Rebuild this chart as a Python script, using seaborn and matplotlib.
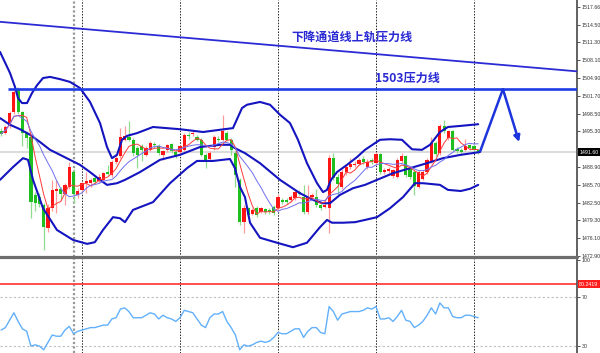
import numpy as np
import pandas as pd
import matplotlib
matplotlib.use("Agg")
import matplotlib.pyplot as plt
import seaborn as sns
from matplotlib.lines import Line2D

# hourly gold candles, oldest first (bar index 0..112)
opens = [
    1495.4, 1495.1, 1496.3, 1498.8, 1502.7, 1498.8, 1495.0, 1494.3, 1483.8, 1483.5,
    1482.1, 1477.9, 1481.5, 1484.6, 1485.0, 1484.0, 1485.4, 1488.0, 1483.9, 1484.8,
    1486.0, 1486.0, 1486.9, 1486.4, 1486.6, 1488.0, 1487.5, 1489.8, 1490.8, 1493.8,
    1494.3, 1493.8, 1492.3, 1492.6, 1491.1, 1492.0, 1493.1, 1492.7, 1491.1, 1492.0,
    1493.0, 1491.6, 1491.6, 1492.0, 1494.7, 1494.8, 1494.3, 1493.8, 1491.1, 1490.4,
    1492.5, 1494.0, 1493.8, 1495.0, 1493.8, 1491.4, 1486.6, 1479.1, 1481.5, 1480.5,
    1481.5, 1480.9, 1481.3, 1481.2, 1481.8, 1481.5, 1483.0, 1483.0, 1483.0, 1483.3,
    1484.4, 1483.6, 1480.9, 1483.5, 1483.6, 1482.1, 1481.8, 1481.5, 1490.5, 1487.2,
    1485.3, 1488.0, 1488.9, 1489.2, 1489.5, 1490.3, 1489.0, 1490.2, 1489.6, 1491.2,
    1488.0, 1488.2, 1487.3, 1487.2, 1490.0, 1490.9, 1488.5, 1488.0, 1485.4, 1486.8,
    1488.0, 1489.9, 1493.2, 1491.4, 1496.3, 1494.1, 1495.3, 1492.2, 1492.0, 1492.0,
    1492.8, 1492.7, 1492.0]
highs = [
    1495.9, 1496.4, 1499.0, 1503.1, 1503.3, 1499.0, 1495.4, 1494.6, 1484.5, 1484.3,
    1482.5, 1482.3, 1486.6, 1486.6, 1485.4, 1486.0, 1489.8, 1488.6, 1485.2, 1486.3,
    1488.1, 1487.0, 1487.5, 1487.6, 1488.0, 1489.3, 1490.2, 1491.0, 1496.0, 1496.2,
    1497.1, 1494.2, 1492.6, 1493.0, 1492.6, 1493.5, 1493.4, 1493.0, 1492.0, 1493.1,
    1493.3, 1491.9, 1492.9, 1495.0, 1495.2, 1495.5, 1494.7, 1494.1, 1491.4, 1491.8,
    1494.6, 1494.4, 1498.3, 1495.3, 1494.1, 1491.7, 1487.0, 1482.0, 1481.8, 1481.5,
    1481.9, 1481.8, 1481.6, 1481.5, 1482.0, 1484.0, 1483.4, 1483.4, 1483.9, 1484.8,
    1484.7, 1485.6, 1485.7, 1484.2, 1485.0, 1482.4, 1482.4, 1491.1, 1491.4, 1487.6,
    1488.5, 1489.3, 1490.5, 1490.0, 1490.6, 1490.8, 1490.3, 1490.6, 1491.6, 1491.5,
    1488.8, 1488.9, 1488.6, 1490.5, 1491.5, 1491.1, 1488.8, 1488.3, 1488.3, 1488.4,
    1490.5, 1494.3, 1493.5, 1496.6, 1497.4, 1495.6, 1495.6, 1492.5, 1492.3, 1493.9,
    1493.1, 1493.0, 1492.2]
lows = [
    1494.5, 1494.8, 1496.0, 1498.5, 1498.5, 1492.6, 1492.3, 1479.7, 1481.0, 1481.8,
    1474.0, 1477.3, 1481.0, 1480.7, 1483.0, 1482.0, 1485.0, 1482.4, 1483.4, 1484.5,
    1484.2, 1485.3, 1485.8, 1486.0, 1486.3, 1487.4, 1487.2, 1489.5, 1490.5, 1493.5,
    1493.5, 1490.8, 1488.7, 1490.0, 1490.8, 1491.8, 1492.4, 1491.0, 1490.2, 1491.6,
    1491.4, 1490.6, 1491.0, 1491.8, 1494.0, 1494.5, 1493.5, 1490.8, 1488.7, 1490.0,
    1492.0, 1493.4, 1493.5, 1493.5, 1491.1, 1485.3, 1478.5, 1477.0, 1480.0, 1480.2,
    1479.9, 1480.6, 1480.5, 1480.4, 1480.3, 1481.0, 1482.2, 1482.3, 1482.7, 1483.0,
    1483.8, 1480.5, 1480.5, 1483.2, 1481.8, 1481.2, 1481.5, 1477.1, 1486.5, 1483.9,
    1485.0, 1487.5, 1488.6, 1488.9, 1489.2, 1489.5, 1488.6, 1489.4, 1489.3, 1487.6,
    1487.6, 1487.8, 1487.0, 1486.9, 1489.7, 1487.2, 1486.8, 1483.9, 1485.1, 1486.5,
    1487.7, 1489.6, 1490.8, 1491.1, 1495.0, 1493.8, 1491.7, 1491.4, 1491.2, 1491.7,
    1492.0, 1491.6, 1491.2]
closes = [
    1494.9, 1496.1, 1498.6, 1502.4, 1498.8, 1495.1, 1494.2, 1482.7, 1482.5, 1482.3,
    1478.2, 1481.5, 1484.8, 1485.0, 1484.1, 1485.7, 1488.9, 1484.0, 1484.6, 1486.0,
    1486.4, 1486.6, 1486.2, 1487.2, 1487.8, 1487.7, 1489.9, 1490.6, 1494.3, 1494.5,
    1493.8, 1491.4, 1491.1, 1492.0, 1492.3, 1493.2, 1492.8, 1491.4, 1491.7, 1492.9,
    1491.7, 1491.1, 1492.6, 1494.7, 1494.4, 1494.9, 1493.8, 1491.1, 1490.2, 1491.5,
    1494.3, 1493.7, 1495.3, 1493.8, 1492.0, 1487.5, 1479.1, 1481.5, 1480.3, 1481.1,
    1480.3, 1481.5, 1480.9, 1480.8, 1480.6, 1483.6, 1482.6, 1482.7, 1483.5, 1484.5,
    1484.1, 1480.9, 1483.6, 1483.8, 1482.1, 1481.5, 1482.1, 1490.5, 1486.9, 1485.8,
    1488.0, 1488.9, 1489.5, 1489.5, 1490.2, 1489.9, 1489.9, 1489.8, 1491.3, 1488.1,
    1488.4, 1488.5, 1488.3, 1490.2, 1490.9, 1487.5, 1487.2, 1485.5, 1488.0, 1488.1,
    1490.2, 1493.2, 1491.2, 1496.3, 1495.3, 1495.3, 1492.0, 1491.8, 1491.6, 1492.7,
    1492.3, 1492.0, 1491.6]
rsi = [
    43, 45, 51, 57, 50, 44, 42, 30, 31, 30,
    27, 33, 39, 38, 38, 43, 46, 40, 42, 43,
    44, 45, 45, 46, 47, 47, 52, 53, 60, 61,
    58, 53, 53, 53, 55, 57, 56, 52, 55, 53,
    52, 50, 53, 59, 58, 57, 52, 47, 45, 53,
    56, 56, 58, 50, 45, 39, 27, 31, 30, 31,
    33, 34, 33, 34, 37, 41, 40, 40, 42, 44,
    44, 37, 42, 45, 45, 41, 40, 62, 58, 51,
    56, 57, 58, 58, 58, 59, 61, 60, 62, 52,
    52, 53, 50, 54, 59, 51, 50, 45, 47, 50,
    55, 61, 56, 65, 61, 61, 54, 53, 53, 55,
    55, 54, 53]

# bollinger bands (bar position, price)
upper_bar = [-0.26, 2.09, 3.26, 3.97, 4.91, 6.08, 7.25, 8.43, 9.84, 11.48, 13.83, 16.17,
             18.52, 20.87, 23.22, 24.86, 26.03, 27.21, 28.38, 29.55, 31.9, 35.66, 42.0,
             47.4, 51.39, 54.43, 55.61, 56.55, 57.72, 60.77, 63.12, 65.47, 67.82, 69.69,
             71.8, 74.16, 75.57, 76.5, 77.44, 78.85, 81.2, 83.56, 85.42, 88.94, 91.29,
             94.1, 96.46, 98.8, 100.68, 103.03, 104.9, 107.9, 112.0]
upper_price = [1509.6, 1505.8, 1503.3, 1501.3, 1500.4, 1500.4, 1502.2, 1503.6, 1504.9,
               1505.1, 1504.7, 1504.2, 1503.1, 1500.6, 1496.8, 1492.5, 1490.5, 1491.1,
               1493.8, 1494.5, 1495.0, 1496.1, 1495.7, 1495.2, 1495.6, 1495.9, 1497.9,
               1499.5, 1500.1, 1500.6, 1500.1, 1498.3, 1496.8, 1493.8, 1489.6, 1486.0,
               1484.4, 1484.8, 1486.6, 1488.0, 1489.3, 1490.7, 1492.0, 1493.8, 1493.9,
               1493.8, 1492.1, 1492.0, 1492.9, 1495.2, 1496.1, 1496.3, 1496.6]
mid_bar = [-0.26, 2.09, 4.44, 6.79, 9.13, 11.48, 13.83, 16.17, 18.52, 20.87, 23.22, 24.86,
           27.21, 29.08, 32.6, 37.3, 42.0, 46.69, 51.39, 53.73, 54.9, 57.25, 60.77, 65.47,
           70.16, 73.22, 75.57, 77.2, 79.55, 82.6, 85.42, 88.24, 92.0, 95.99, 99.98,
           103.73, 107.9, 112.4]
mid_price = [1497.7, 1496.5, 1495.7, 1494.7, 1493.4, 1492.0, 1491.1, 1490.2, 1489.3,
             1488.0, 1486.6, 1485.7, 1486.0, 1486.6, 1488.0, 1490.2, 1491.1, 1492.5,
             1492.9, 1492.9, 1492.3, 1491.4, 1489.6, 1486.6, 1484.2, 1483.0, 1482.4,
             1482.4, 1483.9, 1485.1, 1485.7, 1486.6, 1487.8, 1488.7, 1489.6, 1490.5,
             1491.1, 1491.6]
lower_bar = [-0.26, 2.79, 5.14, 6.31, 7.49, 9.84, 13.1, 16.9, 20.2, 22.0, 23.92, 26.27,
             27.91, 29.08, 30.96, 35.66, 39.65, 43.64, 45.99, 49.74, 53.73, 54.9, 56.08,
             57.25, 58.43, 60.77, 64.77, 68.5, 71.8, 74.86, 76.5, 77.67, 80.26, 83.08,
             85.42, 88.24, 91.29, 94.34, 97.16, 99.04, 103.03, 104.9, 107.9, 110.1, 112.0]
lower_price = [1486.6, 1488.9, 1490.5, 1490.2, 1486.6, 1481.5, 1477.6, 1475.8, 1475.1,
               1475.4, 1477.6, 1479.9, 1479.7, 1479.0, 1481.2, 1482.6, 1486.0, 1488.7,
               1490.0, 1490.0, 1490.35, 1488.7, 1485.3, 1483.5, 1478.9, 1476.2, 1475.3,
               1474.5, 1475.3, 1478.1, 1479.4, 1478.9, 1478.9, 1479.0, 1479.4, 1479.9,
               1481.5, 1483.5, 1486.0, 1486.0, 1485.7, 1484.8, 1484.6, 1485.0, 1485.7]

day_starts = [19, 42, 65, 88, 111]
marker_bar = 17.1
resistance = 1503.0
resistance_from = 1.62
trend_bars = [-0.26, 135.19]
trend_prices = [1515.0, 1506.1]
forecast_bars = [112.4, 117.8, 121.6]
forecast_prices = [1491.6, 1502.9, 1493.4]
last_price = 1491.60
rsi_level = 80.2419
price_ticks = [1517.66, 1514.50, 1511.30, 1508.10, 1504.90, 1501.70, 1498.50, 1495.30,
               1492.10, 1488.90, 1485.70, 1482.50, 1479.30, 1476.10, 1472.90]
rsi_ticks = [100, 70, 30]

sns.set_style("white")
plt.rcParams['font.family'] = ['Noto Sans CJK SC', 'DejaVu Sans']

df = pd.DataFrame({'open': opens, 'high': highs, 'low': lows, 'close': closes, 'rsi': rsi})
df['bar'] = np.arange(len(df))
df['ma_fast'] = df['close'].rolling(5, min_periods=1).mean()
df['ma_slow'] = df['close'].rolling(10, min_periods=1).mean()
up = df['close'] >= df['open']

XMIN, XMAX = -0.26, 135.19
fig = plt.figure(figsize=(6, 3.53), dpi=100)
ax = fig.add_axes([0, 96 / 353, 577 / 600, 257 / 353])
ax2 = fig.add_axes([0, 0, 577 / 600, 94 / 353])

for a in (ax, ax2):
    a.set_xlim(XMIN, XMAX)
    a.set_xticks([])
    for s in ['top', 'left', 'bottom']:
        a.spines[s].set_visible(False)
    a.spines['right'].set_color('#555555')
    a.spines['right'].set_linewidth(1.3)
    a.yaxis.tick_right()
    a.tick_params(axis='y', length=2.5, width=0.6, pad=1, labelsize=3.8,
                  colors='#333333')
    for d in day_starts:
        a.axvline(d, color='#222222', ls=(0, (1.5, 1.5)), lw=0.7, zorder=0.8)
    a.axvline(marker_bar, color='#999999', ls=(0, (1, 1)), lw=1.6, zorder=0.8)

# ---- price panel
ax.set_ylim(1472.74, 1518.92)
ax.set_yticks(price_ticks)
# the tick right under the last-price tag is hidden by that tag
tick_text = ['' if abs(t - last_price) < 1.0 else f'{t:.2f}' for t in price_ticks]
ax.set_yticklabels(tick_text, family='Liberation Sans')
ax.axhline(last_price, color='#d8d8d8', lw=1.3, zorder=0.5)

wick_col = np.where(up, '#ff9a9a', '#8fdb8f')
body_col = np.where(up, '#ff1414', '#20bf20')
ax.vlines(df['bar'], df['low'], df['high'], colors=wick_col, lw=0.9, zorder=2)
body_h = np.maximum((df['close'] - df['open']).abs(), 0.15)
body_b = np.minimum(df['open'], df['close'])
ax.bar(df['bar'], body_h, bottom=body_b, width=0.75, color=body_col, lw=0, zorder=3)

band_col = '#1414c0'
for bx, bp in [(upper_bar, upper_price), (mid_bar, mid_price), (lower_bar, lower_price)]:
    sns.lineplot(x=bx, y=bp, ax=ax, color=band_col, lw=1.5, sort=False,
                 estimator=None, zorder=4)
sns.lineplot(data=df, x='bar', y='ma_fast', ax=ax, color='#ff3b3b', lw=0.7, zorder=4)
sns.lineplot(data=df, x='bar', y='ma_slow', ax=ax, color='#6f6ff2', lw=0.7, zorder=4)

ax.plot(trend_bars, trend_prices, color='#2b2bd6', lw=1.3, zorder=4)
ax.hlines(resistance, resistance_from, XMAX, color='#1e3ce6', lw=1.9, zorder=4)
arrow_col = '#1c34dc'
ax.plot(forecast_bars[:2], forecast_prices[:2], color=arrow_col, lw=1.8,
        solid_capstyle='butt', zorder=5)
ax.annotate('', xy=(forecast_bars[2], forecast_prices[2]),
            xytext=(forecast_bars[1], forecast_prices[1]),
            arrowprops=dict(arrowstyle='-|>', color=arrow_col, lw=1.8,
                            mutation_scale=9, shrinkA=0, shrinkB=0), zorder=5)

ax.text(82.4, 1512.3, '下降通道线上轨压力线', ha='center', va='center',
        fontsize=8.7, color='#2a2ad4', fontweight='bold')
ax.text(95.3, 1504.9, '1503压力线', ha='center', va='center',
        fontsize=8.7, color='#2a2ad4', fontweight='bold')

ax.annotate(f'{last_price:.2f}', xy=(1.0, last_price), xycoords=('axes fraction', 'data'),
            xytext=(1.6, 0), textcoords='offset points', ha='left', va='center',
            fontsize=3.8, color='white', family='Liberation Sans',
            bbox=dict(boxstyle='square,pad=0.25', fc='black', ec='none'),
            annotation_clip=False, zorder=10)

# ---- indicator panel
ax2.set_ylim(24.4, 100.6)
ax2.set_yticks(rsi_ticks)
ax2.set_yticklabels([str(t) for t in rsi_ticks], family='Liberation Sans')
for lvl in (70, 30):
    ax2.axhline(lvl, color='#bdbdbd', ls=(0, (2, 2)), lw=0.8, zorder=0.6)
ax2.axhline(rsi_level, color='#ff3030', lw=1.2, zorder=1)
sns.lineplot(data=df, x='bar', y='rsi', ax=ax2, color='#62b0fc', lw=1.0, zorder=3)
ax2.annotate(f'{rsi_level:.4f}', xy=(1.0, rsi_level), xycoords=('axes fraction', 'data'),
             xytext=(1.6, 0), textcoords='offset points', ha='left', va='center',
             fontsize=3.8, color='white', family='Liberation Sans',
             bbox=dict(boxstyle='square,pad=0.25', fc='#ff1e1e', ec='none'),
             annotation_clip=False, zorder=10)

for a in (ax, ax2):
    a.set_xlabel('')
    a.set_ylabel('')

fig.add_artist(Line2D([0, 577 / 600], [96 / 353, 96 / 353], color='#6e6e6e', lw=2.3,
                      transform=fig.transFigure))

fig.savefig('out.png', dpi=100)
